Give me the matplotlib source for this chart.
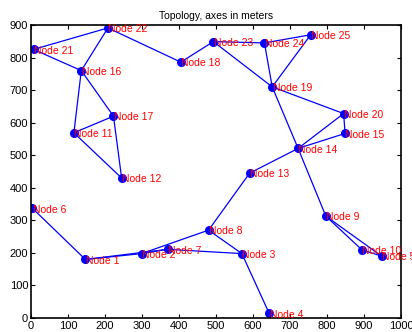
import numpy as np
import matplotlib.pyplot as plt
from matplotlib import rcParams

rcParams['font.family'] = ['Liberation Sans', 'DejaVu Sans']

# node positions (m), node k is index k-1
node_x = [147, 299, 570, 644, 948, 4, 369, 480, 797, 894,
          116, 245, 591, 722, 849, 136, 223, 405, 652, 845,
          7, 208, 493, 631, 756]
node_y = [180, 198, 198, 14, 190, 337, 211, 270, 313, 210,
          569, 430, 445, 521, 567, 760, 620, 786, 710, 628,
          825, 891, 849, 845, 870]

# links between nodes
edges = [(6, 1), (1, 2), (1, 7), (2, 7), (2, 8), (7, 3), (8, 3), (3, 4),
         (8, 13), (13, 14), (14, 9), (19, 14), (14, 20), (14, 15), (20, 15),
         (19, 20), (19, 23), (19, 24), (19, 25), (23, 24), (24, 25), (23, 18),
         (18, 22), (22, 21), (22, 16), (21, 16), (16, 17), (16, 11), (11, 17),
         (11, 12), (17, 12), (9, 10), (9, 5), (10, 5)]

fig = plt.figure(figsize=(4.12, 3.32), dpi=100)
ax = fig.add_axes([0.0752, 0.042, 0.898, 0.8827])

for a, b in edges:
    ax.plot([node_x[a-1], node_x[b-1]], [node_y[a-1], node_y[b-1]], 'b-', linewidth=0.9)

ax.plot(node_x, node_y, 'o', color='b', markersize=5.5, linestyle='none')

for i in range(len(node_x)):
    ax.text(node_x[i] + 1, node_y[i] - 4, 'Node %d' % (i + 1), color='red',
            fontsize=7.5, ha='left', va='center', clip_on=False)

ax.set_xlim(0, 1000)
ax.set_ylim(0, 900)
ax.set_xticks(np.arange(0, 1001, 100))
ax.set_yticks(np.arange(0, 901, 100))
ax.tick_params(direction='in', top=True, right=True, labelsize=8, length=3, pad=2)
for s in ax.spines.values():
    s.set_linewidth(1.2)
ax.set_title('Topology, axes in meters', fontsize=7.5, pad=4)

fig.savefig('out.png', dpi=100)
